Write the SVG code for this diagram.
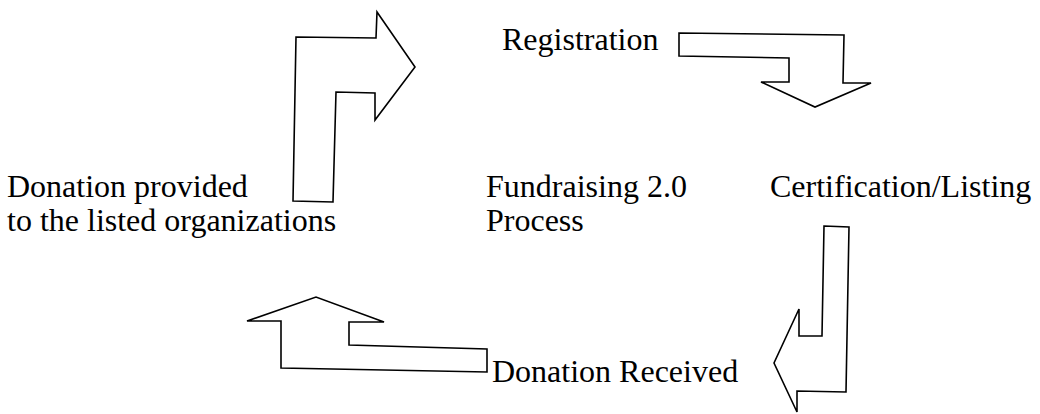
<svg xmlns="http://www.w3.org/2000/svg" width="1040" height="414" viewBox="0 0 1040 414">
<style>
.a{fill:#fff;stroke:#000;stroke-width:1.6;stroke-linejoin:miter}
.t{font-family:"Liberation Serif","Times New Roman",serif;font-size:32px;fill:#000}
</style>
<rect width="1040" height="414" fill="#fff"/>
<g id="connectors">
<polygon id="arrow-up-right" class="a" points="296,37 376,38 377,12 415,67 375,120 375,93 336,92 333,202 293,201"/>
<polygon id="arrow-right-down" class="a" points="679,33 844,35 843,83 871,83 815,107 761,82 789,82 789,58 679,56"/>
<polygon id="arrow-down-left" class="a" points="824,226 849,227 846,392 797,391 797,412 774,363 799,309 799,336 822,336"/>
<polygon id="arrow-left-up" class="a" points="247,321 316,297 384,322 349,322 349,345 487,349 487,372 281,368 281,321"/>
</g>
<g id="node-registration"><text class="t" x="502" y="50">Registration</text></g>
<g id="node-certification"><text class="t" x="770" y="197">Certification/Listing</text></g>
<g id="node-center"><text class="t" x="486" y="197">Fundraising 2.0</text><text class="t" x="486" y="231">Process</text></g>
<g id="node-donation-received"><text class="t" x="492" y="382">Donation Received</text></g>
<g id="node-donation-provided"><text class="t" x="7" y="197">Donation provided</text><text class="t" x="7" y="231">to the listed organizations</text></g>
</svg>
